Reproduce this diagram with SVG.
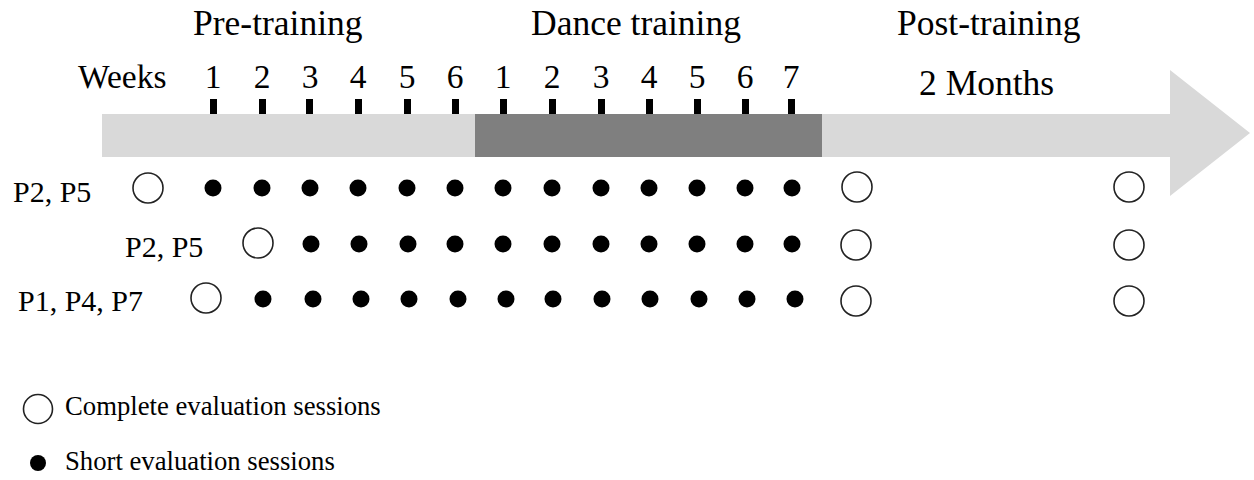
<svg xmlns="http://www.w3.org/2000/svg" width="1254" height="480" viewBox="0 0 1254 480">
<style>
text{font-family:"Liberation Serif","Times New Roman",serif;fill:#000}
.h{font-size:35.5px}
.w{font-size:33.5px}
.r{font-size:30px}
.l{font-size:26.7px}
.o{fill:#fff;stroke:#222;stroke-width:1.6}
.f{fill:#000}
.t{fill:#000}
</style>
<rect width="1254" height="480" fill="#fff"/>
<g id="timeline">
<polygon points="102,114 1170,114 1170,70 1250,133 1170,196 1170,157 102,157" fill="#d9d9d9"/>
<rect x="475" y="114" width="347" height="43" fill="#7f7f7f"/>
</g>
<g id="headers">
<text class="h" x="193" y="35">Pre-training</text>
<text class="h" x="531" y="35">Dance training</text>
<text class="h" x="897" y="35">Post-training</text>
<text class="h" x="919" y="95">2 Months</text>
</g>
<g id="weeks">
<text class="w" x="78" y="88">Weeks</text>
<g text-anchor="middle">
<text class="w" x="213" y="88">1</text>
<text class="w" x="262" y="88">2</text>
<text class="w" x="310" y="88">3</text>
<text class="w" x="358" y="88">4</text>
<text class="w" x="407" y="88">5</text>
<text class="w" x="455" y="88">6</text>
<text class="w" x="503" y="88">1</text>
<text class="w" x="552" y="88">2</text>
<text class="w" x="601" y="88">3</text>
<text class="w" x="649" y="88">4</text>
<text class="w" x="697" y="88">5</text>
<text class="w" x="745" y="88">6</text>
<text class="w" x="791" y="88">7</text>
</g>
<g class="t">
<rect x="210" y="99" width="7" height="15"/>
<rect x="259" y="99" width="7" height="15"/>
<rect x="306" y="99" width="7" height="15"/>
<rect x="355" y="99" width="7" height="15"/>
<rect x="404" y="99" width="7" height="15"/>
<rect x="452" y="99" width="7" height="15"/>
<rect x="500" y="99" width="7" height="15"/>
<rect x="549" y="99" width="7" height="15"/>
<rect x="598" y="99" width="7" height="15"/>
<rect x="646" y="99" width="7" height="15"/>
<rect x="694" y="99" width="7" height="15"/>
<rect x="742" y="99" width="7" height="15"/>
<rect x="788" y="99" width="7" height="15"/>
</g>
</g>
<g id="row1">
<text class="r" x="13" y="202">P2, P5</text>
<circle class="o" cx="148" cy="188" r="15"/>
<g class="f">
<circle cx="213" cy="188" r="8.5"/><circle cx="262" cy="188" r="8.5"/><circle cx="310" cy="188" r="8.5"/><circle cx="358" cy="188" r="8.5"/><circle cx="407" cy="188" r="8.5"/><circle cx="455" cy="188" r="8.5"/><circle cx="503" cy="188" r="8.5"/><circle cx="552" cy="188" r="8.5"/><circle cx="601" cy="188" r="8.5"/><circle cx="649" cy="188" r="8.5"/><circle cx="697" cy="188" r="8.5"/><circle cx="745" cy="188" r="8.5"/><circle cx="792" cy="188" r="8.5"/>
</g>
<circle class="o" cx="857" cy="187" r="15"/>
<circle class="o" cx="1129" cy="187" r="15"/>
</g>
<g id="row2">
<text class="r" x="125" y="257">P2, P5</text>
<circle class="o" cx="258" cy="243" r="15"/>
<g class="f">
<circle cx="311" cy="244" r="8.5"/><circle cx="359" cy="244" r="8.5"/><circle cx="408" cy="244" r="8.5"/><circle cx="455" cy="244" r="8.5"/><circle cx="503" cy="244" r="8.5"/><circle cx="552" cy="244" r="8.5"/><circle cx="601" cy="244" r="8.5"/><circle cx="649" cy="244" r="8.5"/><circle cx="697" cy="244" r="8.5"/><circle cx="745" cy="244" r="8.5"/><circle cx="792" cy="244" r="8.5"/>
</g>
<circle class="o" cx="856" cy="245" r="15"/>
<circle class="o" cx="1129" cy="245" r="15"/>
</g>
<g id="row3">
<text class="r" x="18" y="311">P1, P4, P7</text>
<circle class="o" cx="206" cy="298" r="15"/>
<g class="f">
<circle cx="263" cy="299" r="8.5"/><circle cx="313" cy="299" r="8.5"/><circle cx="361" cy="299" r="8.5"/><circle cx="409" cy="299" r="8.5"/><circle cx="458" cy="299" r="8.5"/><circle cx="506" cy="299" r="8.5"/><circle cx="553" cy="299" r="8.5"/><circle cx="602" cy="299" r="8.5"/><circle cx="650" cy="299" r="8.5"/><circle cx="699" cy="299" r="8.5"/><circle cx="747" cy="299" r="8.5"/><circle cx="795" cy="299" r="8.5"/>
</g>
<circle class="o" cx="856" cy="301" r="15"/>
<circle class="o" cx="1129" cy="301" r="15"/>
</g>
<g id="legend">
<circle class="o" cx="38" cy="409" r="14.5"/>
<text class="l" x="65" y="415">Complete evaluation sessions</text>
<circle class="f" cx="38" cy="463" r="8"/>
<text class="l" x="65" y="470">Short evaluation sessions</text>
</g>
</svg>
